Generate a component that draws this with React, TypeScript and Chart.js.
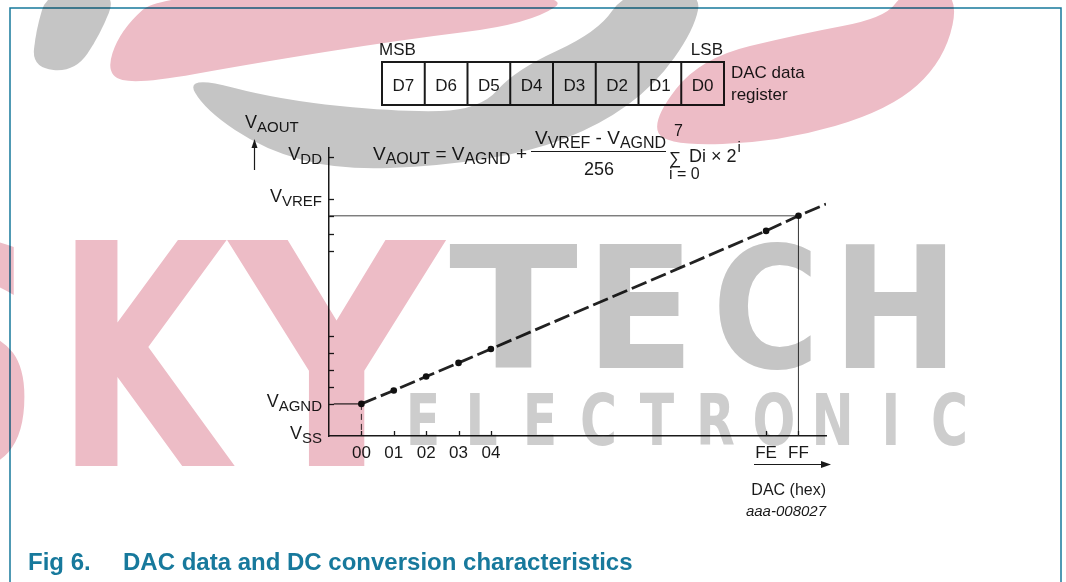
import React, { useEffect, useRef } from "react";
import { Chart, registerables } from "chart.js";

Chart.register(...registerables);

// ---------- data ----------
const codes = ["00", "01", "02", "03", "04", "FE", "FF"];
const codePositions = [0, 1, 2, 3, 4, 12.5, 13.5]; // position along the (broken) DAC axis
const vOut = [11.5, 16.3, 21.3, 26.2, 31.2, 73.5, 78.9]; // % of VDD
const lineEndX = [14.35];
const lineEndY = [83.1];
const levelMains = ["V", "V", "V", "V"];
const levelSubs = ["SS", "AGND", "VREF", "DD"];
const levelValues = [0, 11.5, 84.9, 100];
const minorTickValues = [17.6, 23.7, 29.7, 35.8, 66.4, 72.4, 78.9];
const registerBits = ["D7", "D6", "D5", "D4", "D3", "D2", "D1", "D0"];

const FONT = '"Liberation Sans", Arial, Helvetica, sans-serif';
const INK = "#1a1a1a";
const TEAL = "#17799c";

function vText(
  ctx: CanvasRenderingContext2D,
  x: number,
  y: number,
  main: string,
  sub: string,
  align: "left" | "right" | "center",
  mainPx = 18,
  subPx = 15,
  drop = 4
) {
  ctx.font = `${mainPx}px ${FONT}`;
  const w1 = ctx.measureText(main).width;
  ctx.font = `${subPx}px ${FONT}`;
  const w2 = ctx.measureText(sub).width;
  const x0 = align === "right" ? x - w1 - w2 : align === "center" ? x - (w1 + w2) / 2 : x;
  ctx.textAlign = "left";
  ctx.textBaseline = "alphabetic";
  ctx.font = `${mainPx}px ${FONT}`;
  ctx.fillText(main, x0, y);
  ctx.font = `${subPx}px ${FONT}`;
  ctx.fillText(sub, x0 + w1, y + drop);
  return x0 + w1 + w2;
}

function txt(ctx: CanvasRenderingContext2D, s: string, x: number, y: number, font: string, align: CanvasTextAlign = "left") {
  ctx.font = font;
  ctx.textAlign = align;
  ctx.textBaseline = "alphabetic";
  ctx.fillText(s, x, y);
  return ctx.measureText(s).width;
}

function smoothShape(ctx: CanvasRenderingContext2D, pts: number[][]) {
  const n = pts.length;
  ctx.beginPath();
  const mid = (a: number[], b: number[]) => [(a[0] + b[0]) / 2, (a[1] + b[1]) / 2];
  const start = mid(pts[n - 1], pts[0]);
  ctx.moveTo(start[0], start[1]);
  for (let i = 0; i < n; i++) {
    const p = pts[i];
    const m = mid(p, pts[(i + 1) % n]);
    ctx.quadraticCurveTo(p[0], p[1], m[0], m[1]);
  }
  ctx.closePath();
  ctx.fill();
}

function drawWatermark(ctx: CanvasRenderingContext2D) {
  ctx.save();
  ctx.globalCompositeOperation = "multiply";
  const pink = "#edbcc6";
  const gray = "#c5c5c5";
  // swooshes
  ctx.fillStyle = pink;
  smoothShape(ctx, [
    [165, -10], [580, -10], [530, 24], [400, 40], [250, 64], [140, 84], [105, 76], [120, 30],
  ]);
  smoothShape(ctx, [
    [905, -10], [960, -10], [945, 60], [890, 110], [780, 142], [665, 146], [652, 120], [700, 58], [800, 34], [885, 18],
  ]);
  ctx.fillStyle = gray;
  smoothShape(ctx, [
    [48, -10], [118, -10], [100, 35], [75, 72], [32, 68], [36, 30],
  ]);
  smoothShape(ctx, [
    [185, 75], [280, 100], [400, 112], [480, 110], [515, 70], [598, 32], [626, -10], [702, -10], [694, 30],
    [655, 85], [600, 125], [530, 152], [440, 166], [340, 170], [265, 150], [205, 110],
  ]);
  // letters
  ctx.textBaseline = "alphabetic";
  ctx.textAlign = "left";
  ctx.fillStyle = pink;
  ctx.font = `bold 310px "DejaVu Sans", sans-serif`;
  const drawScaled = (s: string, x: number, y: number, sx: number) => {
    ctx.save();
    ctx.translate(x, y);
    ctx.scale(sx, 1);
    ctx.fillText(s, 0, 0);
    ctx.restore();
  };
  drawScaled("S", -120, 466, 0.72);
  drawScaled("K", 55, 466, 0.72);
  drawScaled("Y", 230, 466, 0.95);
  ctx.fillStyle = gray;
  ctx.font = `bold 170px "DejaVu Sans", sans-serif`;
  const tech = "TECH";
  const techX = [449, 585, 712, 832];
  const techW = [129, 110, 108, 127];
  for (let i = 0; i < tech.length; i++) {
    const w = ctx.measureText(tech[i]).width;
    drawScaled(tech[i], techX[i], 368, techW[i] / w);
  }
  ctx.fillStyle = "#cdcdcd";
  ctx.font = `bold 72px "DejaVu Sans", sans-serif`;
  const el = "ELECTRONIC";
  for (let i = 0; i < el.length; i++) {
    const w = ctx.measureText(el[i]).width;
    const cx = 423 + i * 58.5;
    drawScaled(el[i], cx - (w * 0.7) / 2, 445, 0.7);
  }
  ctx.restore();
}

const decorPlugin = {
  id: "decor",
  afterDraw(chart: any) {
    const ctx: CanvasRenderingContext2D = chart.ctx;
    const xs = chart.scales.x;
    const ys = chart.scales.y;
    const area = chart.chartArea;
    ctx.save();
    ctx.fillStyle = INK;
    ctx.strokeStyle = INK;

    // y-axis tick marks (inward)
    ctx.lineWidth = 1.3;
    [...levelValues.slice(1), ...minorTickValues].forEach((v) => {
      const y = Math.round(ys.getPixelForValue(v)) + 0.5;
      ctx.beginPath();
      ctx.moveTo(area.left, y);
      ctx.lineTo(area.left + 5, y);
      ctx.stroke();
    });
    // x-axis tick marks (inward)
    codePositions.forEach((p) => {
      const x = Math.round(xs.getPixelForValue(p)) + 0.5;
      ctx.beginPath();
      ctx.moveTo(x, area.bottom);
      ctx.lineTo(x, area.bottom - 5);
      ctx.stroke();
    });

    // y level labels
    levelValues.forEach((v, i) => {
      const y = ys.getPixelForValue(v);
      vText(ctx, area.left - 7, y + 3, levelMains[i], levelSubs[i], "right");
    });
    // x tick labels
    codes.forEach((c, i) => {
      txt(ctx, c, xs.getPixelForValue(codePositions[i]), area.bottom + 22, `17px ${FONT}`, "center");
    });

    // y axis title and arrow
    vText(ctx, 245, 128, "V", "AOUT", "left");
    ctx.lineWidth = 1.2;
    ctx.beginPath();
    ctx.moveTo(254.5, 170);
    ctx.lineTo(254.5, 145);
    ctx.stroke();
    ctx.beginPath();
    ctx.moveTo(254.5, 139);
    ctx.lineTo(251.5, 148);
    ctx.lineTo(257.5, 148);
    ctx.closePath();
    ctx.fill();

    // x axis title and arrow
    ctx.beginPath();
    ctx.moveTo(754, 464.5);
    ctx.lineTo(822, 464.5);
    ctx.stroke();
    ctx.beginPath();
    ctx.moveTo(831, 464.5);
    ctx.lineTo(821, 461);
    ctx.lineTo(821, 468);
    ctx.closePath();
    ctx.fill();
    txt(ctx, "DAC (hex)", 826, 495, `16px ${FONT}`, "right");
    txt(ctx, "aaa-008027", 826, 516, `italic 15px ${FONT}`, "right");

    // register
    const rx0 = 382, rx1 = 724, rt = 62, rb = 105;
    const cw = (rx1 - rx0) / registerBits.length;
    ctx.lineWidth = 2;
    ctx.strokeRect(rx0, rt, rx1 - rx0, rb - rt);
    for (let i = 1; i < registerBits.length; i++) {
      ctx.beginPath();
      ctx.moveTo(rx0 + i * cw, rt);
      ctx.lineTo(rx0 + i * cw, rb);
      ctx.stroke();
    }
    registerBits.forEach((b, i) => {
      txt(ctx, b, rx0 + (i + 0.5) * cw, 91, `17px ${FONT}`, "center");
    });
    txt(ctx, "MSB", 379, 55, `17px ${FONT}`, "left");
    txt(ctx, "LSB", 723, 55, `17px ${FONT}`, "right");
    txt(ctx, "DAC data", 731, 78, `17px ${FONT}`, "left");
    txt(ctx, "register", 731, 100, `17px ${FONT}`, "left");

    // formula
    let fx = vText(ctx, 373, 160, "V", "AOUT", "left", 19, 16);
    fx += txt(ctx, " = ", fx, 160, `19px ${FONT}`);
    fx = vText(ctx, fx, 160, "V", "AGND", "left", 19, 16);
    txt(ctx, " +", fx, 160, `19px ${FONT}`);
    let nx = vText(ctx, 535, 144, "V", "VREF", "left", 19, 16);
    nx += txt(ctx, " - ", nx, 144, `19px ${FONT}`);
    vText(ctx, nx, 144, "V", "AGND", "left", 19, 16);
    ctx.lineWidth = 1;
    ctx.beginPath();
    ctx.moveTo(531, 151.5);
    ctx.lineTo(666, 151.5);
    ctx.stroke();
    txt(ctx, "256", 599, 175, `18px ${FONT}`, "center");
    txt(ctx, "7", 674, 136, `16px ${FONT}`, "left");
    txt(ctx, "\u2211", 669, 164, `17px ${FONT}`, "left");
    const dw = txt(ctx, "Di \u00d7 2", 689, 162, `18px ${FONT}`, "left");
    txt(ctx, "i", 689 + dw + 1, 152, `15px ${FONT}`, "left");
    txt(ctx, "i = 0", 669, 179, `16px ${FONT}`, "left");

    // frame and caption
    ctx.strokeStyle = TEAL;
    ctx.lineWidth = 1.5;
    ctx.beginPath();
    ctx.moveTo(10, 600);
    ctx.lineTo(10, 8);
    ctx.lineTo(1061, 8);
    ctx.lineTo(1061, 600);
    ctx.stroke();
    ctx.fillStyle = TEAL;
    txt(ctx, "Fig 6.", 28, 570, `bold 24px ${FONT}`, "left");
    txt(ctx, "DAC data and DC conversion characteristics", 123, 570, `bold 24px ${FONT}`, "left");
    ctx.restore();

    drawWatermark(ctx);
  },
};

export default function App() {
  const ref = useRef<HTMLCanvasElement | null>(null);
  useEffect(() => {
    if (!ref.current) return;
    const mainPts = codePositions.map((x, i) => ({ x, y: vOut[i] }));
    lineEndX.forEach((x, i) => mainPts.push({ x, y: lineEndY[i] }));
    const radii = mainPts.map((_, i) => (i < codes.length ? 3.3 : 0));
    const iAgnd = 0;
    const iFF = codes.length - 1;
    const chart = new Chart(ref.current, {
      type: "scatter",
      data: {
        datasets: [
          {
            data: mainPts,
            showLine: true,
            borderColor: "#222",
            borderWidth: 2.8,
            borderDash: [16, 5],
            pointRadius: radii,
            pointBackgroundColor: "#111",
            pointBorderWidth: 0,
          },
          {
            data: [
              { x: -0.85, y: vOut[iAgnd] },
              { x: codePositions[iAgnd], y: vOut[iAgnd] },
            ],
            showLine: true,
            borderColor: "#222",
            borderWidth: 1.2,
            pointRadius: 0,
          },
          {
            data: [
              { x: codePositions[iAgnd], y: vOut[iAgnd] },
              { x: codePositions[iAgnd], y: 0 },
            ],
            showLine: true,
            borderColor: "#333",
            borderWidth: 1,
            borderDash: [6, 4],
            pointRadius: 0,
          },
          {
            data: [
              { x: -1, y: vOut[iFF] },
              { x: codePositions[iFF], y: vOut[iFF] },
            ],
            showLine: true,
            borderColor: "#444",
            borderWidth: 1,
            pointRadius: 0,
          },
          {
            data: [
              { x: codePositions[iFF], y: vOut[iFF] },
              { x: codePositions[iFF], y: 0 },
            ],
            showLine: true,
            borderColor: "#444",
            borderWidth: 1,
            pointRadius: 0,
          },
        ],
      },
      options: {
        responsive: false,
        animation: false,
        events: [],
        layout: { padding: { left: 329, right: 240, top: 148, bottom: 146 } },
        plugins: { legend: { display: false }, tooltip: { enabled: false } },
        scales: {
          x: {
            type: "linear",
            min: -1,
            max: 14.35,
            grid: { display: false, drawTicks: false },
            ticks: { display: false },
            border: { display: true, color: "#1a1a1a", width: 1.5 },
          },
          y: {
            type: "linear",
            min: 0,
            max: 103.2,
            grid: { display: false, drawTicks: false },
            ticks: { display: false },
            border: { display: true, color: "#1a1a1a", width: 1.5 },
          },
        },
      },
      plugins: [decorPlugin],
    });
    return () => chart.destroy();
  }, []);
  return (
    <div style={{ position: "absolute", left: 0, top: 0, width: 1066, height: 582, background: "#fff" }}>
      <canvas ref={ref} width={1066} height={582} style={{ display: "block", width: 1066, height: 582 }} />
    </div>
  );
}
